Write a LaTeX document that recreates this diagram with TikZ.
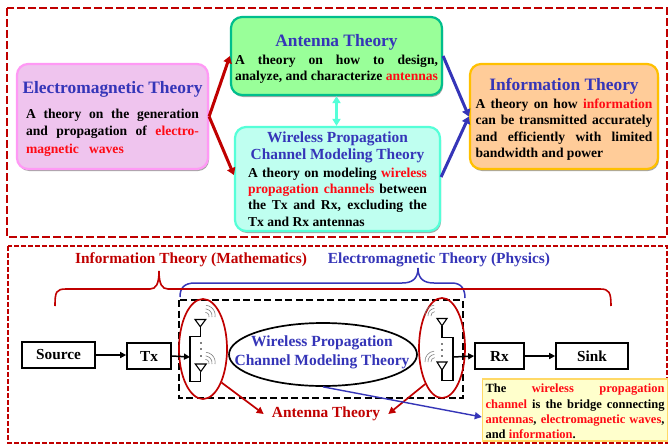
\documentclass[tikz,border=0pt]{standalone}
\usepackage{fontspec}
\setmainfont{Liberation Serif}
\usetikzlibrary{arrows.meta,shapes.geometric,shadows}
\definecolor{dred}{HTML}{C00000}
\definecolor{tblue}{HTML}{3535B8}
\definecolor{tred}{HTML}{FF0A14}
\definecolor{emfill}{HTML}{EFC4EE}
\definecolor{emdraw}{HTML}{FF99F5}
\definecolor{antfill}{HTML}{99FF99}
\definecolor{antdraw}{HTML}{00BE8C}
\definecolor{wirfill}{HTML}{BFFFF0}
\definecolor{wirdraw}{HTML}{55FFD8}
\definecolor{inffill}{HTML}{FFCC99}
\definecolor{infdraw}{HTML}{FFC000}
\definecolor{notefill}{HTML}{FFFFCC}
\definecolor{notedraw}{HTML}{FFD966}
\newcommand{\RD}[1]{\textcolor{tred}{#1}}
\newcommand{\JL}[2]{\makebox[#1pt][s]{#2}}
\newcommand{\LF}[2]{\makebox[#1pt][l]{#2}}
\newcommand{\TTL}[1]{{\fontsize{17.4}{16}\selectfont\color{tblue}#1}}
\newcommand{\TTS}[1]{{\fontsize{15.4}{16}\selectfont\color{tblue}#1}}
\tikzset{
  x=1pt,y=-1pt,
  theorybox/.style={draw,line width=2.2pt,rounded corners=11pt,inner sep=0pt,align=center,
    font=\bfseries\fontsize{13.6}{16.3}\selectfont,
    drop shadow={shadow xshift=1pt,shadow yshift=-2pt,opacity=.35,fill=black}},
  thick arrow/.style={line width=3pt,-{Triangle[length=7pt,width=8.5pt]}},
  flowbox/.style={draw=black,line width=1.7pt,fill=white,inner sep=0pt,font=\bfseries\fontsize{15.3}{16}\selectfont},
  flow/.style={line width=1.5pt,-{Triangle[length=6pt,width=6pt]}},
  redell/.style={draw=dred,line width=1.7pt,ellipse,inner sep=0pt},
  lab/.style={font=\bfseries\fontsize{15.4}{16}\selectfont,inner sep=0pt},
  ant/.style={draw=black,line width=1.1pt,line join=miter},
  wave/.style={draw=gray,line width=.6pt},
}
\begin{document}
\begin{tikzpicture}
\useasboundingbox (0,0) rectangle (668,444);
\fill[white] (0,0) rectangle (668,444);
% frames
\draw[dred,line width=2.4pt,dash pattern=on 8pt off 3pt] (7,8) rectangle (667,237);
\draw[dred,line width=1.6pt,dash pattern=on 5pt off 2pt] (8,246) rectangle (667,443);
% theory boxes
\node[theorybox,fill=emfill,draw=emdraw,minimum width=191pt,minimum height=105pt] (em) at (112.5,116.5)
 {\rule{0pt}{16.5pt}\TTL{Electromagnetic Theory}\\[9pt]
  \JL{173}{A theory on the generation}\\[1.2pt]
  \JL{173}{and propagation of \RD{electro-}}\\[1.2pt]
  \LF{173}{\RD{magnetic\ \ \ waves}}};
\node[theorybox,fill=antfill,draw=antdraw,minimum width=211pt,minimum height=78pt] (ante) at (336.5,56)
 {\rule{0pt}{18.5pt}\TTL{Antenna Theory}\\[1pt]
  \JL{203}{A theory on how to design,}\\
  \JL{203}{analyze, and characterize \RD{antennas}}};
\node[theorybox,fill=wirfill,draw=wirdraw,minimum width=205pt,minimum height=104pt] (wir) at (337.5,179)
 {\TTS{Wireless Propagation}\\[1pt]
  \TTS{Channel Modeling Theory}\\[1pt]
  \JL{179}{A theory on modeling \RD{wireless}}\\
  \JL{179}{\RD{propagation channels} between}\\
  \JL{179}{the Tx and Rx, excluding the}\\
  \LF{179}{Tx and Rx antennas}};
\node[theorybox,fill=inffill,draw=infdraw,minimum width=188pt,minimum height=105pt] (info) at (564,116.5)
 {\rule{0pt}{17.5pt}\TTL{Information Theory}\\[2pt]
  \JL{177}{A theory on how \RD{information}}\\
  \JL{177}{can be transmitted accurately}\\
  \JL{177}{and efficiently with limited}\\
  \LF{177}{bandwidth and power}};
\draw[thick arrow,dred] (em.east) -- (ante.west);
\draw[thick arrow,dred] (em.east) -- ([yshift=4pt]wir.west);
\draw[thick arrow,tblue] (ante.east) -- (info.west);
\draw[thick arrow,tblue] ([yshift=2pt]wir.east) -- (info.west);
\draw[line width=2.6pt,{Triangle[length=7pt,width=8pt]}-{Triangle[length=7pt,width=8pt]},wirdraw] (ante.south) -- (ante.south|-wir.north);
% lower part
\draw[black,line width=1.7pt,dash pattern=on 7pt off 3.5pt] (179,300) rectangle (463,398);
\draw[tblue,line width=1.5pt] (180,297) .. controls (180,288) and (184,283) .. (195,283) -- (402,283) .. controls (412,283) and (418,279) .. (418,268) .. controls (418,279) and (424,283) .. (434,283) -- (452,283) .. controls (462,283) and (465,290) .. (465,298);
\draw[dred,line width=1.6pt] (55,306) .. controls (55,292) and (56,289) .. (66,289) -- (150,289) .. controls (156,289) and (159,284) .. (159,271) .. controls (159,284) and (162,289) .. (168,289) -- (600,289) .. controls (609,289) and (611,292) .. (611,306);
\node[lab,text=dred] (itm) at (191,260) {Information Theory (Mathematics)};
\node[lab,text=tblue] (emp) at (439,260) {Electromagnetic Theory (Physics)};
\node[flowbox,minimum width=73pt,minimum height=26pt] (src) at (58.5,355) {Source};
\node[flowbox,minimum width=44pt,minimum height=26pt] (tx) at (149,356) {Tx};
\node[flowbox,minimum width=49pt,minimum height=26pt] (rx) at (499.5,356) {Rx};
\node[flowbox,minimum width=72pt,minimum height=26pt] (sink) at (592,356) {Sink};
\node[draw=black,line width=1.7pt,ellipse,inner sep=0pt,minimum width=188pt,minimum height=63pt] (wpm) at (323,354.5) {};
\node[align=center,text=tblue,inner sep=0pt,font=\bfseries\fontsize{15.5}{19}\selectfont] (wpmt) at (322,352) {Wireless Propagation\\Channel Modeling Theory};
\node[redell,minimum width=48pt,minimum height=100pt] (lell) at (203,349) {};
\node[redell,minimum width=46pt,minimum height=100pt] (rell) at (442,348) {};
% left antenna array
\coordinate (lfeed) at (190,357);
\draw[ant] (195,319.5) -- (205.7,319.5) -- (200.3,326.7) -- cycle;
\draw[ant] (200.3,326.7) -- (200.3,336.7) -- (190,336.7) -- (190,381.7) -- (200.8,381.7) -- (200.8,371.5);
\draw[ant] (195.3,364) -- (206.2,364) -- (200.8,371.5) -- cycle;
\foreach \yy in {343,349,356} \fill (201,\yy) circle (.9pt);
\foreach \cx/\cy in {205/317,205/364} \foreach \rr in {4,7,10}
  \draw[wave] ([shift={(\rr pt,0pt)}]\cx,\cy) arc[start angle=-10,end angle=85,radius=\rr pt];
% right antenna array
\coordinate (rfeed) at (453,357);
\draw[ant] (437,318.5) -- (447,318.5) -- (442,325.7) -- cycle;
\draw[ant] (442,325.7) -- (442,337.7) -- (453,337.7) -- (453,380.7) -- (442,380.7) -- (442,370);
\draw[ant] (437,362) -- (447,362) -- (442,370) -- cycle;
\foreach \yy in {344,350,356} \fill (442,\yy) circle (.9pt);
\foreach \cx/\cy in {435/316,435/362} \foreach \rr in {4,7,10}
  \draw[wave] ([shift={(-\rr pt,0pt)}]\cx,\cy) arc[start angle=185,end angle=95,radius=\rr pt];
% flow arrows
\draw[flow] (src.east) -- (tx.west|-src.east);
\draw[flow] (tx.east) -- (lfeed);
\draw[flow] (rfeed) -- (rx.west);
\draw[flow] (rx.east) -- (sink.west);
% antenna theory
\node[lab,text=dred,inner sep=8pt] (atn) at (326,414) {Antenna Theory};
\draw[dred,line width=1.7pt,-{Triangle[length=7pt,width=7pt]}] (lell.-61) -- (atn.west);
\draw[dred,line width=1.7pt,-{Triangle[length=7pt,width=7pt]}] (rell.245) -- (atn.east);
% note
\node[draw=notedraw,line width=1.4pt,fill=notefill,minimum width=185pt,minimum height=62pt,inner sep=0pt,align=center,font=\bfseries\fontsize{12.5}{15.3}\selectfont] (note) at (575,410)
 {\rule{0pt}{12pt}\JL{179}{The \RD{wireless propagation}}\\
  \JL{179}{\RD{channel} is the bridge connecting}\\
  \JL{179}{\RD{antennas}, \RD{electromagnetic waves},}\\
  \LF{179}{and \RD{information}.}};
\draw[tblue,line width=1.4pt,-{Triangle[length=7pt,width=7pt]}] (wpm.-90) -- ([yshift=-7pt]note.west);
\end{tikzpicture}
\end{document}
